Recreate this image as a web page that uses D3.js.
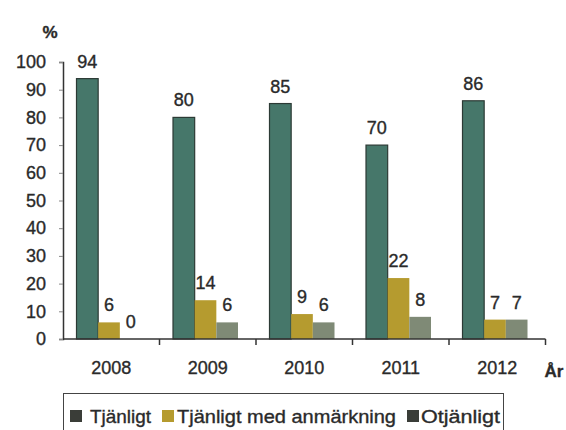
<!DOCTYPE html>
<html><head><meta charset="utf-8">
<script src="https://cdn.jsdelivr.net/npm/d3@7"></script>
<style>body{margin:0;background:#fff}svg text{font-family:"Liberation Sans",Arial,sans-serif;fill:#2a2a2a;stroke:#2a2a2a;stroke-width:0.35px}</style>
</head><body><svg id="c" width="566" height="430"></svg>
<script>
const years = ["2008","2009","2010","2011","2012"];
const series = ["Tjänligt","Tjänligt med anmärkning","Otjänligt"];
const tjanligt = [94,80,85,70,86];
const anmarkning = [6,14,9,22,7];
const otjanligt = [0,6,6,8,7];
const yTicks = [0,10,20,30,40,50,60,70,80,90,100];
const colors = ["#46776a","#b59b2f","#7f8a76"];
const legendColors = ["#3a3d38","#b59b2f","#3a3d38"];
const values = [tjanligt, anmarkning, otjanligt];

(function(){
const svg = d3.select("#c");
const mLeft = 63, mRight = 545.5, mTop = 62, mBottom = 339;
const x0 = d3.scaleBand().domain(years).range([mLeft, mRight]);
const x1 = d3.scaleBand().domain(series).range([13.5, 78.5]);
const y = d3.scaleLinear().domain([0,100]).range([mBottom, mTop]);

years.forEach((yr,i)=>{
  series.forEach((s,j)=>{
    const v = values[j][i];
    const bx = x0(yr)+x1(s), w = x1.bandwidth();
    svg.append("rect").attr("x",bx).attr("y",y(v)).attr("width",w).attr("height",y(0)-y(v))
      .attr("fill",colors[j]).attr("stroke",j===0?"#2c3a35":"none").attr("stroke-width",1.2);
    svg.append("text").attr("x",bx+w/2).attr("y",y(v)-11).attr("text-anchor","middle")
      .attr("font-size",18).text(v);
  });
});

const ya = svg.append("g").attr("transform",`translate(${mLeft},0)`)
  .call(d3.axisLeft(y).tickValues(yTicks).tickSize(4).tickPadding(13));
ya.select(".domain").attr("stroke","#333").attr("stroke-width",1.5);
ya.selectAll("line").attr("stroke","#888");
ya.selectAll("text").attr("font-size",18).attr("fill","#2a2a2a").attr("font-family","Liberation Sans, Arial, sans-serif");

const xa = svg.append("g").attr("transform",`translate(0,${mBottom})`)
  .call(d3.axisBottom(x0).tickSize(0).tickPadding(22));
xa.select(".domain").attr("stroke","#333").attr("stroke-width",1.5).attr("d",`M${mLeft},0H${mRight}`);
xa.selectAll("text").attr("font-size",18).attr("fill","#2a2a2a").attr("font-family","Liberation Sans, Arial, sans-serif");
const bounds = years.map(yr=>x0(yr)+x0.bandwidth());
svg.append("g").selectAll("line").data(bounds).join("line")
  .attr("x1",d=>d).attr("x2",d=>d).attr("y1",mBottom).attr("y2",mBottom+6)
  .attr("stroke","#333").attr("stroke-width",1.5);

svg.append("text").attr("x",50).attr("y",38).attr("text-anchor","middle").attr("font-size",17).attr("font-weight","bold").text("%");
svg.append("text").attr("x",554).attr("y",377).attr("text-anchor","middle").attr("font-size",17).attr("font-weight","bold").text("År");

svg.append("rect").attr("x",63.5).attr("y",393.5).attr("width",440).attr("height",50).attr("fill","none").attr("stroke","#444");
const lx = [70, 162, 407];
const tx = [90, 177, 421];
const tw = [61, 219, 79];
series.forEach((s,j)=>{
  svg.append("rect").attr("x",lx[j]).attr("y",410).attr("width",12).attr("height",12).attr("fill",legendColors[j]);
  svg.append("text").attr("x",tx[j]).attr("y",422.5).attr("font-size",18.5)
    .attr("textLength",tw[j]).attr("lengthAdjust","spacingAndGlyphs").text(s);
});
})();
</script></body></html>
